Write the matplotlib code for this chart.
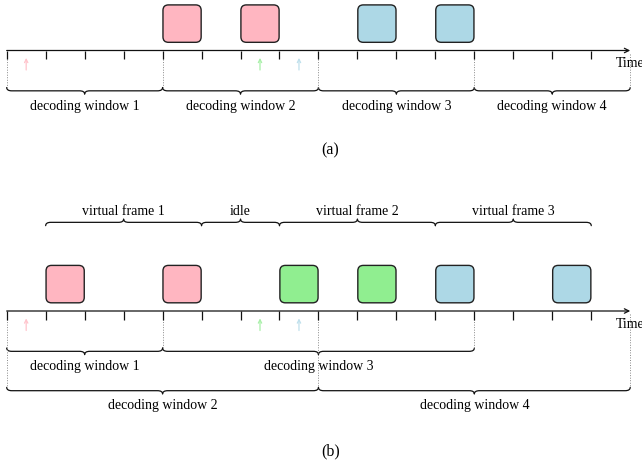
import matplotlib
matplotlib.use("Agg")
import matplotlib.pyplot as plt
from matplotlib.patches import FancyBboxPatch, FancyArrowPatch, PathPatch
from matplotlib.path import Path

# ---- data -----------------------------------------------------------------
N_SLOTS = 16
tick_slots = list(range(16))

fill_colors = {"pink": "#FFB6C1", "green": "#90EE90", "blue": "#ADD8E6"}
arrow_colors = {"pink": "#FFC4CC", "green": "#A8F0A8", "blue": "#BFE0EC"}

arrival_slots = [0.5, 6.5, 7.5]
arrival_colors = ["pink", "green", "blue"]

# (a) fixed decoding windows
a_box_slots = [4, 6, 9, 11]
a_box_colors = ["pink", "pink", "blue", "blue"]
a_window_starts = [0, 4, 8, 12]
a_window_ends = [4, 8, 12, 16]
a_window_labels = ["decoding window 1", "decoding window 2",
                   "decoding window 3", "decoding window 4"]

# (b) virtual frames with overlapping decoding windows
b_box_slots = [1, 4, 7, 9, 11, 14]
b_box_colors = ["pink", "pink", "green", "green", "blue", "blue"]
b_frame_starts = [1, 5, 7, 11]
b_frame_ends = [5, 7, 11, 15]
b_frame_labels = ["virtual frame 1", "idle", "virtual frame 2", "virtual frame 3"]
b_upper_starts = [0, 4]
b_upper_ends = [4, 12]
b_upper_labels = ["decoding window 1", "decoding window 3"]
b_lower_starts = [0, 8]
b_lower_ends = [8, 16]
b_lower_labels = ["decoding window 2", "decoding window 4"]

# ---- layout (one slot = one unit on both axes) ------------------------------
W, H, DPI = 6.42, 4.64, 100
SLOT_PX = 38.97
X0_PX = 6.7
TOP_AXIS = -51.5 / SLOT_PX
BOT_AXIS = -312.0 / SLOT_PX

FONT = "Liberation Serif"
FS = 10

fig = plt.figure(figsize=(W, H), dpi=DPI)
ax = fig.add_axes([0, 0, 1, 1])
ax.set_xlim(-X0_PX / SLOT_PX, (W * DPI - X0_PX) / SLOT_PX)
ax.set_ylim(-H * DPI / SLOT_PX, 0)
ax.axis("off")

INK = "#111111"


def brace(x0, x1, y, direction, amp=0.085, curl=0.13, lw=0.9):
    """Curly brace from x0 to x1; ends at y, tip pointing in `direction`."""
    d = direction
    xm = (x0 + x1) / 2
    ym = y + d * amp
    yt = y + 2 * d * amp
    verts = [(x0, y), (x0, ym), (x0 + curl, ym),
             (xm - curl, ym),
             (xm, ym), (xm, yt),
             (xm, ym), (xm + curl, ym),
             (x1 - curl, ym),
             (x1, ym), (x1, y)]
    codes = [Path.MOVETO, Path.CURVE3, Path.CURVE3,
             Path.LINETO,
             Path.CURVE3, Path.CURVE3,
             Path.CURVE3, Path.CURVE3,
             Path.LINETO,
             Path.CURVE3, Path.CURVE3]
    ax.add_patch(PathPatch(Path(verts, codes), fill=False, ec=INK, lw=lw,
                           capstyle="round", joinstyle="round"))


def time_axis(y0):
    ax.add_patch(FancyArrowPatch((0, y0), (N_SLOTS, y0), arrowstyle="->",
                                 mutation_scale=8, lw=0.9, color=INK,
                                 shrinkA=0, shrinkB=0))
    for t in tick_slots:
        ax.plot([t, t], [y0, y0 - 0.23], color=INK, lw=0.9,
                solid_capstyle="butt")
    ax.text(N_SLOTS, y0 - 0.31, "Time", ha="center", va="center",
            family=FONT, fontsize=FS)


def boxes(y0, slots, colors):
    for s, c in zip(slots, colors):
        ax.add_patch(FancyBboxPatch((s + 0.01, y0 + 0.21), 0.98, 0.96,
                                    boxstyle="round,pad=0,rounding_size=0.14",
                                    fc=fill_colors[c], ec="#222222", lw=1.0))


def arrivals(y0):
    for s, c in zip(arrival_slots, arrival_colors):
        ax.add_patch(FancyArrowPatch((s, y0 - 0.5), (s, y0 - 0.19),
                                     arrowstyle="->", mutation_scale=6,
                                     lw=0.9, color=arrow_colors[c],
                                     shrinkA=0, shrinkB=0))


def dotted(x, y_top, y_bot):
    ax.plot([x, x], [y_top, y_bot], color="#888888", lw=0.7,
            linestyle=(0, (1, 1.6)))


def brace_row(y0, starts, ends, labels, end_off, label_off, direction=-1):
    for s, e, lab in zip(starts, ends, labels):
        brace(s, e, y0 + end_off, direction)
        ax.text((s + e) / 2, y0 + label_off, lab, ha="center", va="center",
                family=FONT, fontsize=FS)


# ---- (a) --------------------------------------------------------------------
boxes(TOP_AXIS, a_box_slots, a_box_colors)
for x in sorted(set(a_window_starts + a_window_ends)):
    dotted(x, TOP_AXIS - 0.08, TOP_AXIS - 0.95)
time_axis(TOP_AXIS)
arrivals(TOP_AXIS)
brace_row(TOP_AXIS, a_window_starts, a_window_ends, a_window_labels,
          -0.95, -1.40)
ax.text(8.3, TOP_AXIS - 2.55, "(a)", ha="center", va="center",
        family=FONT, fontsize=11.5)

# ---- (b) --------------------------------------------------------------------
boxes(BOT_AXIS, b_box_slots, b_box_colors)
brace_row(BOT_AXIS, b_frame_starts, b_frame_ends, b_frame_labels,
          2.19, 2.59, direction=1)
for x in sorted(set(b_upper_starts + b_upper_ends) - set(b_lower_starts + b_lower_ends)):
    dotted(x, BOT_AXIS - 0.08, BOT_AXIS - 0.95)
for x in sorted(set(b_lower_starts + b_lower_ends)):
    dotted(x, BOT_AXIS - 0.08, BOT_AXIS - 1.96)
time_axis(BOT_AXIS)
arrivals(BOT_AXIS)
brace_row(BOT_AXIS, b_upper_starts, b_upper_ends, b_upper_labels, -0.95, -1.40)
brace_row(BOT_AXIS, b_lower_starts, b_lower_ends, b_lower_labels, -1.96, -2.41)
ax.text(8.3, BOT_AXIS - 3.57, "(b)", ha="center", va="center",
        family=FONT, fontsize=11.5)

fig.savefig("out.png", dpi=DPI)
